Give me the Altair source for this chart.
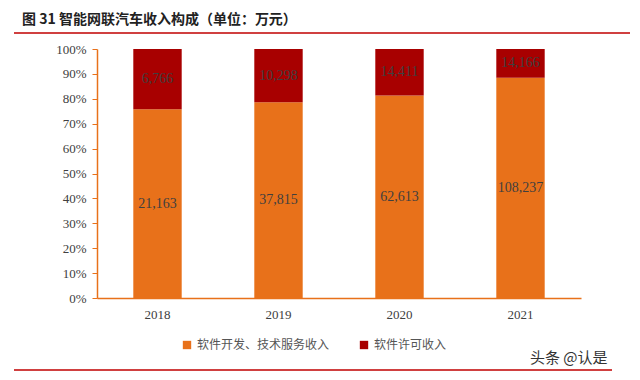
import altair as alt
import pandas as pd

years = ["2018", "2019", "2020", "2021"]
dev_service = [21163, 37815, 62613, 108237]
license_rev = [6766, 10298, 14411, 14166]
series_names = ["软件开发、技术服务收入", "软件许可收入"]
colors = ["#E8711A", "#A80000"]
title_text = "图 31 智能网联汽车收入构成（单位：万元）"
watermark = "头条 @认是"
y_ticks = [0, 10, 20, 30, 40, 50, 60, 70, 80, 90, 100]

rows = []
for i, y in enumerate(years):
    rows.append({"year": y, "series": series_names[0], "value": dev_service[i], "order": 0})
    rows.append({"year": y, "series": series_names[1], "value": license_rev[i], "order": 1})
df = pd.DataFrame(rows)

W, H = 484, 249
AX = "#E8711A"
SERIF = "Liberation Serif"

base = alt.Chart(df).transform_stack(
    stack="value", groupby=["year"], as_=["s0", "s1"], offset="normalize",
    sort=[alt.SortField("order", order="ascending")]
).transform_calculate(
    v0="datum.s0 * 100", v1="datum.s1 * 100", mid="(datum.s0 + datum.s1) * 50"
)

xaxis = alt.Axis(labelAngle=0, domainColor=AX, domainWidth=1.5, ticks=False,
                 labelFont=SERIF, labelFontSize=13, labelColor="#404040",
                 labelPadding=10)
yaxis = alt.Axis(values=y_ticks, labelExpr="datum.value + '%'", labelOverlap=False,
                 domainColor=AX, domainWidth=1.5, tickColor=AX, tickSize=5,
                 grid=False, labelFont=SERIF, labelFontSize=13,
                 labelColor="#404040", labelPadding=6)
xscale = alt.Scale(paddingInner=0.6, paddingOuter=0.3)
yscale = alt.Scale(domain=[0, 100], nice=False)

bars = base.mark_bar().encode(
    x=alt.X("year:N", sort=years, title=None, scale=xscale, axis=xaxis),
    y=alt.Y("v0:Q", title=None, scale=yscale, axis=yaxis),
    y2="v1:Q",
    color=alt.Color("series:N", sort=series_names,
                    scale=alt.Scale(domain=series_names, range=colors),
                    legend=alt.Legend(title=None, orient="none", legendX=84, legendY=290,
                                      direction="horizontal", symbolType="square",
                                      symbolSize=70, symbolStrokeWidth=0,
                                      labelFont="Noto Sans CJK SC", labelFontSize=12,
                                      labelColor="#555555", columnPadding=28,
                                      symbolOpacity=1)),
)

labels = base.mark_text(font=SERIF, fontSize=14, color="#3f3f3f").encode(
    x=alt.X("year:N", sort=years, title=None, scale=xscale, axis=xaxis),
    y=alt.Y("mid:Q", title=None, scale=yscale, axis=yaxis),
    text=alt.Text("value:Q", format=","),
)

title = alt.Chart(pd.DataFrame({"t": [title_text]})).mark_text(
    align="left", baseline="middle", font="Noto Sans CJK SC", fontSize=14,
    fontWeight="bold", color="#222222").encode(
    x=alt.value(-75), y=alt.value(-29), text="t:N")

wm = alt.Chart(pd.DataFrame({"t": [watermark]})).mark_text(
    align="left", baseline="middle", font="Noto Sans CJK SC", fontSize=15,
    color="#333333").encode(x=alt.value(433), y=alt.value(309), text="t:N")

top_line = alt.Chart(pd.DataFrame({"a": [0]})).mark_rule(color="#C00000", strokeWidth=1.5).encode(
    x=alt.value(-83), x2=alt.value(533), y=alt.value(-16))
bot_line = alt.Chart(pd.DataFrame({"a": [0]})).mark_rule(color="#C00000", strokeWidth=1.5).encode(
    x=alt.value(-83), x2=alt.value(515), y=alt.value(321))

chart = alt.layer(bars, labels, title, wm, top_line, bot_line).properties(
    width=W, height=H,
    autosize=alt.AutoSizeParams(type="none"),
    padding={"left": 89, "top": 41, "right": 51, "bottom": 74},
).configure_view(stroke=None).configure_legend(symbolStrokeColor=None)

chart.save("out.html", embed_options={"renderer": "svg", "actions": False})
